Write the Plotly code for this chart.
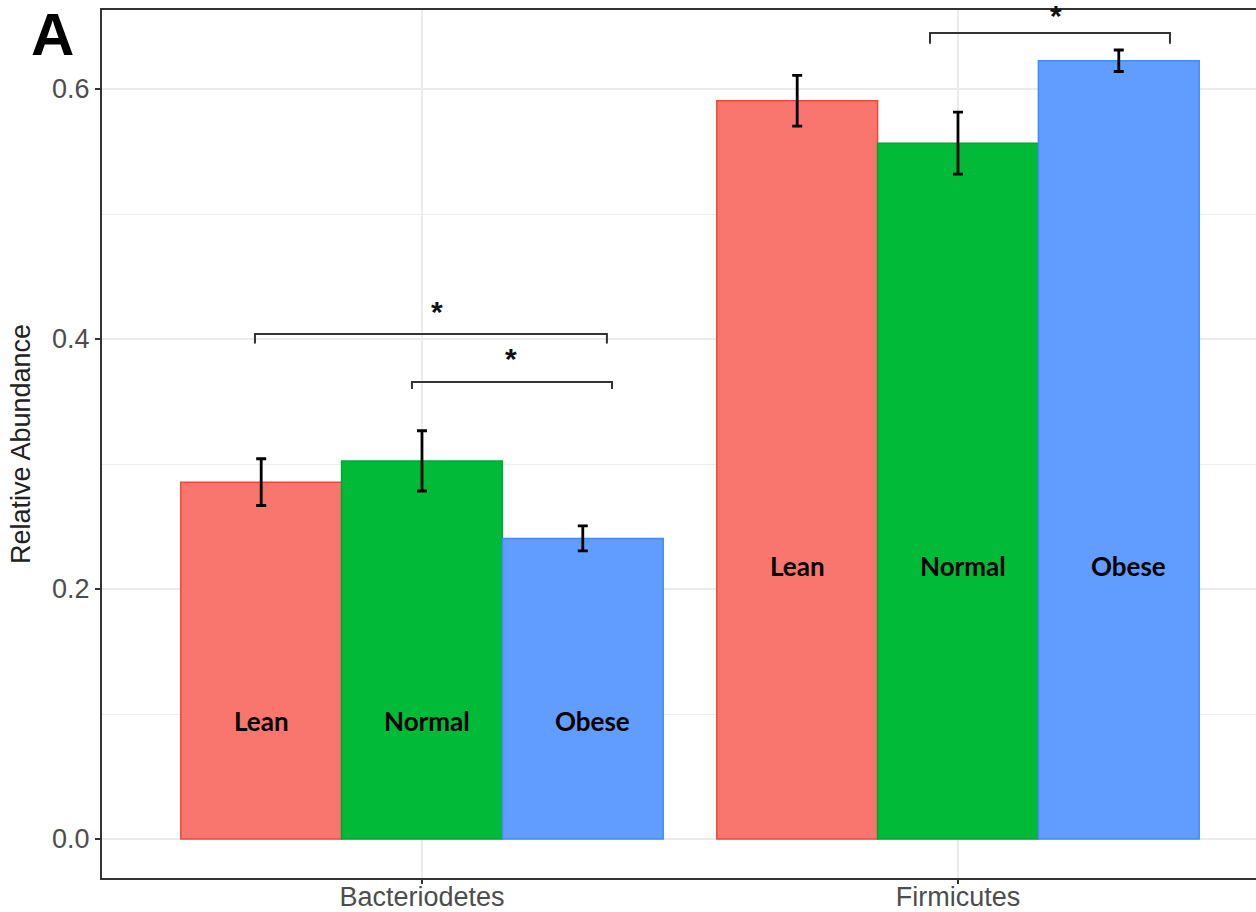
import plotly.graph_objects as go

# Phylum-level relative abundance by BMI group
phyla = ["Bacteriodetes", "Firmicutes"]
groups = ["Lean", "Normal", "Obese"]
mean_abundance = {
    "Lean":   [0.2855, 0.5906],
    "Normal": [0.3025, 0.5567],
    "Obese":  [0.2405, 0.6226],
}
sem_abundance = {
    "Lean":   [0.0187, 0.0203],
    "Normal": [0.0241, 0.0248],
    "Obese":  [0.0100, 0.0086],
}
fill_colors = {"Lean": "#F8766D", "Normal": "#00BA38", "Obese": "#619CFF"}
edge_colors = {"Lean": "#F5453A", "Normal": "#00A833", "Obese": "#3E8BFF"}

# In-bar group labels: y position per phylum, small x nudge per group
bar_label_y = [0.0944, 0.2184]
bar_label_dx = {"Lean": 0.0, "Normal": 0.009, "Obese": 0.018}

# Significance brackets: x0, x1, bar height, tip length, star x, star y
brackets = [
    (0.6884, 1.3450, 0.4040, 0.0075, 1.028, 0.4224),
    (0.9813, 1.3545, 0.3656, 0.0055, 1.166, 0.3848),
    (1.9478, 2.3955, 0.6448, 0.0085, 2.183, 0.6592),
]

x_pos = [1, 2]
group_w = 0.9
fig = go.Figure()
for g in groups:
    fig.add_trace(go.Bar(
        x=x_pos, y=mean_abundance[g], name=g,
        marker=dict(color=fill_colors[g], line=dict(color=edge_colors[g], width=1.5)),
        error_y=dict(type="data", array=sem_abundance[g], color="black",
                     thickness=2.8, width=5),
        showlegend=False,
    ))

annotations = []
for gi, g in enumerate(groups):
    for pi in range(len(phyla)):
        xc = x_pos[pi] + (gi - 1) * group_w / 3 + bar_label_dx[g]
        annotations.append(dict(
            x=xc, y=bar_label_y[pi], xref="x", yref="y", text="<b>%s</b>" % g,
            showarrow=False, font=dict(family="Lato", size=26, color="black"),
            xanchor="center", yanchor="middle",
        ))

shapes = []
for x0, x1, yb, tip, sx, sy in brackets:
    shapes.append(dict(
        type="path", xref="x", yref="y",
        path="M %f,%f L %f,%f L %f,%f L %f,%f" % (x0, yb - tip, x0, yb, x1, yb, x1, yb - tip),
        line=dict(color="#333333", width=2),
    ))
    annotations.append(dict(
        x=sx, y=sy, xref="x", yref="y", text="<b>*</b>", showarrow=False,
        font=dict(family="Liberation Sans", size=30, color="#111111"),
        xanchor="center", yanchor="middle",
    ))

# panel letter, positioned relative to the plot area
annotations.append(dict(
    xref="paper", yref="paper", x=(52 - 102) / 1154, y=1 + (10 - 35) / 868,
    text="<b>A</b>", showarrow=False,
    font=dict(family="Liberation Sans", size=60, color="black"),
    xanchor="center", yanchor="middle",
))

fig.update_layout(
    width=1256, height=912,
    margin=dict(l=102, r=0, t=10, b=34),
    paper_bgcolor="white", plot_bgcolor="white",
    barmode="group", bargap=0.1, bargroupgap=0.0,
    annotations=annotations, shapes=shapes,
    font=dict(family="Liberation Sans", color="#4D4D4D"),
)
fig.update_xaxes(
    range=[0.403, 2.556], tickvals=x_pos, ticktext=phyla,
    tickfont=dict(size=27, color="#4D4D4D"),
    showgrid=True, gridcolor="#EBEBEB", gridwidth=2,
    showline=True, linecolor="#333333", linewidth=2, mirror=True,
    ticks="outside", ticklen=4, tickwidth=2, tickcolor="#333333",
    ticklabelstandoff=-10,
    zeroline=False, automargin=False,
)
fig.update_yaxes(
    range=[-0.0312, 0.6632], tickvals=[0.0, 0.2, 0.4, 0.6],
    ticktext=["0.0", "0.2", "0.4", "0.6"],
    tickfont=dict(size=27, color="#4D4D4D"),
    title=dict(text="Relative Abundance", font=dict(size=27, color="#222222"), standoff=14),
    showgrid=True, gridcolor="#EBEBEB", gridwidth=2,
    minor=dict(tickvals=[0.1, 0.3, 0.5], showgrid=True, gridcolor="#EEEEEE", gridwidth=1),
    showline=True, linecolor="#333333", linewidth=2, mirror=False,
    ticks="outside", ticklen=5, tickwidth=2, tickcolor="#333333",
    zeroline=False, automargin=False,
)

fig.write_html("out.html")
